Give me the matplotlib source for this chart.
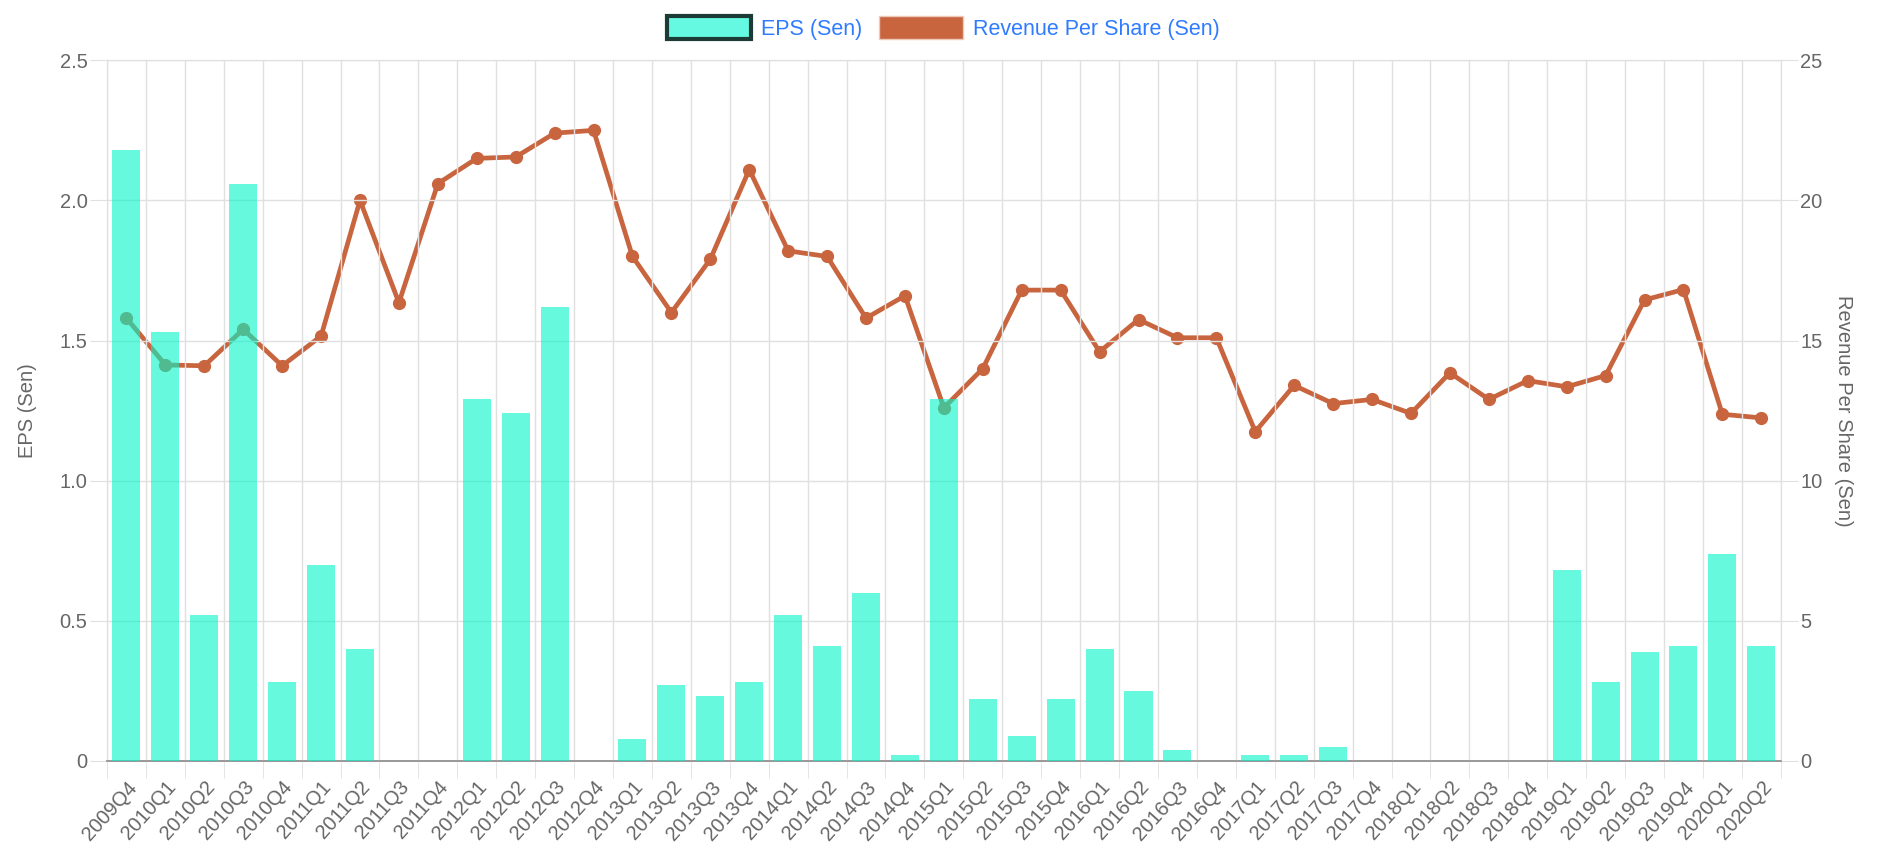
import numpy as np
import matplotlib.pyplot as plt
from matplotlib.patches import Patch

# quarters shown on the x axis
quarters = ['2009Q4',
            '2010Q1', '2010Q2', '2010Q3', '2010Q4',
            '2011Q1', '2011Q2', '2011Q3', '2011Q4',
            '2012Q1', '2012Q2', '2012Q3', '2012Q4',
            '2013Q1', '2013Q2', '2013Q3', '2013Q4',
            '2014Q1', '2014Q2', '2014Q3', '2014Q4',
            '2015Q1', '2015Q2', '2015Q3', '2015Q4',
            '2016Q1', '2016Q2', '2016Q3', '2016Q4',
            '2017Q1', '2017Q2', '2017Q3', '2017Q4',
            '2018Q1', '2018Q2', '2018Q3', '2018Q4',
            '2019Q1', '2019Q2', '2019Q3', '2019Q4',
            '2020Q1', '2020Q2']

# EPS (Sen) - bars, left axis
eps = [2.18,
       1.53, 0.52, 2.06, 0.28,
       0.70, 0.40, 0.0, 0.0,
       1.29, 1.24, 1.62, 0.0,
       0.08, 0.27, 0.23, 0.28,
       0.52, 0.41, 0.60, 0.02,
       1.29, 0.22, 0.09, 0.22,
       0.40, 0.25, 0.04, 0.0,
       0.02, 0.02, 0.05, 0.0,
       0.0, 0.0, 0.0, 0.0,
       0.68, 0.28, 0.39, 0.41,
       0.74, 0.41]

# Revenue per share (Sen) - line, right axis
revenue = [15.8,
           14.13, 14.1, 15.4, 14.1,
           15.16, 20.0, 16.35, 20.6,
           21.5, 21.55, 22.4, 22.5,
           18.0, 16.0, 17.9, 21.1,
           18.2, 18.0, 15.8, 16.6,
           12.6, 14.0, 16.8, 16.8,
           14.6, 15.75, 15.1, 15.1,
           11.75, 13.4, 12.75, 12.9,
           12.4, 13.85, 12.9, 13.57,
           13.35, 13.75, 16.45, 16.82,
           12.37, 12.24]

eps_ticks = [0, 0.5, 1.0, 1.5, 2.0, 2.5]
eps_tick_labels = ['0', '0.5', '1.0', '1.5', '2.0', '2.5']
rev_ticks = [0, 5, 10, 15, 20, 25]

BAR_COLOR = (0.0, 0.96, 0.79, 0.6)
LINE_COLOR = '#c8653f'
GRID_COLOR = '#e0e0e0'
TEXT_COLOR = '#666666'
FS = 14.5

plt.rcParams['font.family'] = ['Liberation Sans', 'DejaVu Sans']

x = np.arange(len(quarters))

fig = plt.figure(figsize=(18.87, 8.49), dpi=100)
ax = fig.add_axes([0.0567, 0.1037, 0.887, 0.8253])
ax2 = ax.twinx()

# bars drawn above the line, like the original
ax.set_zorder(2)
ax.patch.set_visible(False)
ax2.set_zorder(1)
ax2.patch.set_visible(True)
ax2.patch.set_facecolor('white')

ax2.plot(x, revenue, color=LINE_COLOR, linewidth=3.4, marker='o',
         markersize=8.5, zorder=3)
ax.bar(x, eps, width=0.72, color=BAR_COLOR, zorder=3)

ax.set_xlim(-0.5, len(quarters) - 0.5)
ax.set_ylim(0, 2.5)
ax2.set_ylim(0, 25)

# category labels at centres, grid lines at category boundaries
ax.set_xticks(x)
ax.set_xticklabels(quarters, rotation=48, ha='right', rotation_mode='anchor')
ax.set_xticks(np.arange(len(quarters) + 1) - 0.5, minor=True)
ax.tick_params(axis='x', which='major', length=0, pad=12,
               labelsize=FS, labelcolor=TEXT_COLOR)
ax.tick_params(axis='x', which='minor', length=12, color=GRID_COLOR)
ax.grid(axis='x', which='minor', color=GRID_COLOR, linewidth=1)

ax.set_yticks(eps_ticks)
ax.set_yticklabels(eps_tick_labels)
ax.tick_params(axis='y', length=12, color=GRID_COLOR, labelsize=FS,
               labelcolor=TEXT_COLOR, pad=2)
ax.grid(axis='y', color=GRID_COLOR, linewidth=1)
ax.set_axisbelow(True)

ax2.set_yticks(rev_ticks)
ax2.tick_params(axis='y', length=12, color=GRID_COLOR, labelsize=FS,
                labelcolor=TEXT_COLOR, pad=2)

ax.set_ylabel('EPS (Sen)', color=TEXT_COLOR, fontsize=FS, labelpad=16)
ax2.set_ylabel('Revenue Per Share (Sen)', color=TEXT_COLOR, fontsize=FS,
               rotation=270, labelpad=22)

for a in (ax, ax2):
    for side in ('left', 'right', 'top'):
        a.spines[side].set_color(GRID_COLOR)
    a.spines['bottom'].set_color('#999999')
    a.spines['bottom'].set_linewidth(1.3)

handles = [Patch(facecolor='#64f9e0', edgecolor='#1d3b36', linewidth=3),
           Patch(facecolor=LINE_COLOR, edgecolor='#f0c8b8', linewidth=1)]
fig.legend(handles, ['EPS (Sen)', 'Revenue Per Share (Sen)'],
           loc='center', bbox_to_anchor=(0.5, 0.967), ncol=2, frameon=False,
           fontsize=15.5, labelcolor='#2f7bff', handlelength=3.9,
           handleheight=1.25, handletextpad=0.45, columnspacing=0.8)

fig.savefig('out.png', dpi=100, facecolor='white')
